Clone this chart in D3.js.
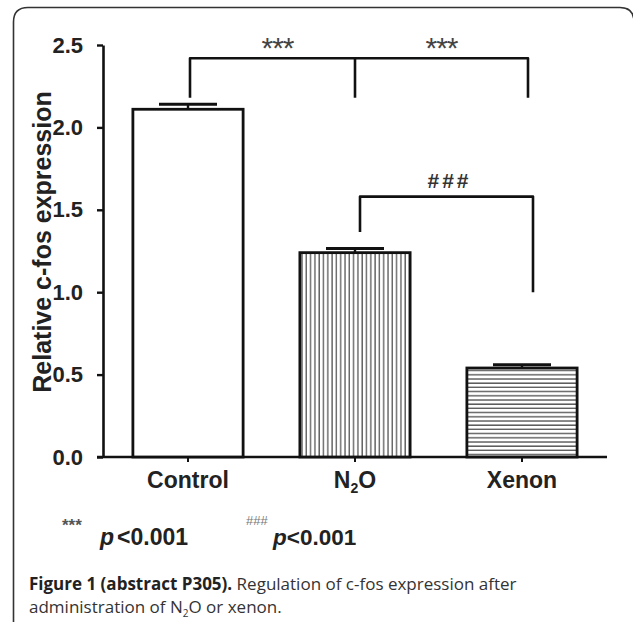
<!DOCTYPE html>
<html><head><meta charset="utf-8">
<script src="https://cdn.jsdelivr.net/npm/d3@7"></script>
<style>
html,body{margin:0;padding:0;background:#fff;}
svg{display:block;}
</style>
</head><body>
<svg id="chart" width="633" height="622"></svg>
<script>
// ---- data ----
const categories = ["Control", "N2O", "Xenon"];
const meanValues = [2.11, 1.24, 0.54];
const errValues = [0.03, 0.025, 0.02];
const yTicks = [0.0, 0.5, 1.0, 1.5, 2.0, 2.5];
const yTickLabels = ["0.0", "0.5", "1.0", "1.5", "2.0", "2.5"];
const fills = ["none", "vstripe", "hstripe"];
// significance brackets
const bracket1Legs = [["Control", 2.18], ["N2O", 2.18], ["Xenon", 2.18]];
const bracket1Level = 2.42;
const bracket1Labels = ["***", "***"];
const bracket2Legs = [["N2O", 1.365], ["Xenon", 1.0]];
const bracket2Level = 1.58;
const bracket2Label = "###";

const svg = d3.select("#chart");
const defs = svg.append("defs");

// frame
svg.append("path")
  .attr("d", "M13.5,640 L13.5,22 Q13.5,7.5 28,7.5 L620,7.5 Q634,7.5 634,22 L634,640")
  .attr("fill", "none").attr("stroke", "#333").attr("stroke-width", 1.6);

// patterns
const pv = defs.append("pattern").attr("id", "vstripe").attr("patternUnits", "userSpaceOnUse")
  .attr("width", 4.3).attr("height", 10);
pv.append("rect").attr("width", 4.3).attr("height", 10).attr("fill", "#fff");
pv.append("line").attr("x1", 1).attr("x2", 1).attr("y1", 0).attr("y2", 10)
  .attr("stroke", "#555").attr("stroke-width", 1.3);
const ph = defs.append("pattern").attr("id", "hstripe").attr("patternUnits", "userSpaceOnUse")
  .attr("width", 10).attr("height", 4.2);
ph.append("rect").attr("width", 10).attr("height", 4.2).attr("fill", "#fff");
ph.append("line").attr("y1", 1).attr("y2", 1).attr("x1", 0).attr("x2", 10)
  .attr("stroke", "#555").attr("stroke-width", 1.4);

// scales
const y = d3.scaleLinear().domain([0, 2.5]).range([457, 45]);
const x = d3.scaleBand().domain(categories).range([104.5, 605.5])
  .paddingInner(0.34).paddingOuter(0.17);
const cx = c => x(c) + x.bandwidth() / 2;

const fontBold = "'Liberation Sans', Arial, sans-serif";

// y axis
const yAxis = d3.axisLeft(y).tickValues(yTicks)
  .tickFormat((d, i) => yTickLabels[i]).tickSizeInner(6).tickSizeOuter(0).tickPadding(14);
const gy = svg.append("g").attr("transform", "translate(103,0)").call(yAxis);
gy.select(".domain").attr("stroke", "#111").attr("stroke-width", 2.6);
gy.selectAll(".tick line").attr("stroke", "#111").attr("stroke-width", 2.4);
gy.selectAll(".tick text").attr("font-family", fontBold).attr("font-weight", "bold")
  .attr("font-size", 22).attr("fill", "#222");

// x axis line
svg.append("line").attr("x1", 97).attr("x2", 607).attr("y1", y(0)).attr("y2", y(0))
  .attr("stroke", "#111").attr("stroke-width", 2.6);
svg.selectAll(".xtick").data(categories).enter().append("line")
  .attr("x1", d => cx(d)).attr("x2", d => cx(d))
  .attr("y1", y(0)).attr("y2", y(0) + 5).attr("stroke", "#111").attr("stroke-width", 2);

// bars
svg.selectAll(".bar").data(categories).enter().append("rect")
  .attr("x", d => x(d)).attr("width", x.bandwidth())
  .attr("y", (d, i) => y(meanValues[i]))
  .attr("height", (d, i) => y(0) - y(meanValues[i]))
  .attr("fill", (d, i) => fills[i] === "none" ? "#fff" : `url(#${fills[i]})`)
  .attr("stroke", "#111").attr("stroke-width", 2.8);

// error bars
categories.forEach((c, i) => {
  const top = y(meanValues[i] + errValues[i]);
  svg.append("line").attr("x1", cx(c)).attr("x2", cx(c))
    .attr("y1", y(meanValues[i])).attr("y2", top).attr("stroke", "#111").attr("stroke-width", 2.4);
  svg.append("line").attr("x1", cx(c) - 29).attr("x2", cx(c) + 29)
    .attr("y1", top).attr("y2", top).attr("stroke", "#111").attr("stroke-width", 3);
});

// brackets
const legX = [cx("Control") + 2, cx("N2O"), cx("Xenon") + 6];
const b1 = svg.append("g").attr("fill", "none").attr("stroke", "#111").attr("stroke-width", 2.6);
b1.append("path").attr("d",
  `M${legX[0]},${y(bracket1Legs[0][1])} L${legX[0]},${y(bracket1Level)} L${legX[2]},${y(bracket1Level)} L${legX[2]},${y(bracket1Legs[2][1])}`)
  .attr("stroke-linejoin", "round");
b1.append("line").attr("x1", legX[1]).attr("x2", legX[1])
  .attr("y1", y(bracket1Level)).attr("y2", y(bracket1Legs[1][1]));
const b1mid = [(legX[0] + legX[1]) / 2 + 5, (legX[1] + legX[2]) / 2];
bracket1Labels.forEach((t, i) => {
  svg.append("text").attr("x", b1mid[i]).attr("y", 58).attr("text-anchor", "middle")
    .attr("font-family", fontBold).attr("font-size", 30).attr("fill", "#444")
    .attr("letter-spacing", -1).text(t);
});

const l2a = cx("N2O") + 5, l2b = cx("Xenon") + 11;
svg.append("path").attr("d",
  `M${l2a},${y(bracket2Legs[0][1])} L${l2a},${y(bracket2Level)} L${l2b},${y(bracket2Level)} L${l2b},${y(bracket2Legs[1][1])}`)
  .attr("fill", "none").attr("stroke", "#111").attr("stroke-width", 2.6).attr("stroke-linejoin", "round");
svg.append("text").attr("x", (l2a + l2b) / 2 + 3).attr("y", 188).attr("text-anchor", "middle")
  .attr("font-family", fontBold).attr("font-weight", "bold").attr("font-size", 21)
  .attr("letter-spacing", 3).attr("fill", "#333").text(bracket2Label);

// category labels
categories.forEach(c => {
  const t = svg.append("text").attr("x", cx(c)).attr("y", 488).attr("text-anchor", "middle")
    .attr("font-family", fontBold).attr("font-weight", "bold").attr("font-size", 23).attr("fill", "#222");
  if (c === "N2O") {
    t.append("tspan").text("N");
    t.append("tspan").attr("font-size", 14).attr("dy", 5).text("2");
    t.append("tspan").attr("dy", -5).text("O");
  } else t.text(c);
});

// y label
svg.append("text").attr("transform", "translate(51,242) rotate(-90)")
  .attr("text-anchor", "middle").attr("font-family", fontBold).attr("font-weight", "bold")
  .attr("font-size", 25).attr("fill", "#222").text("Relative c-fos expression");

// p-value notes
svg.append("text").attr("x", 62).attr("y", 531).attr("font-family", fontBold)
  .attr("font-weight", "bold").attr("font-size", 17).attr("fill", "#555").text("***");
const n1 = svg.append("text").attr("x", 100).attr("y", 545).attr("font-family", fontBold)
  .attr("font-weight", "bold").attr("font-size", 23).attr("fill", "#222");
n1.append("tspan").attr("font-style", "italic").text("p");
n1.append("tspan").attr("dx", 3).text("<0.001");
svg.append("text").attr("x", 246).attr("y", 525).attr("font-family", fontBold)
  .attr("font-size", 13).attr("fill", "#777").text("###");
const n2 = svg.append("text").attr("x", 273).attr("y", 545).attr("font-family", fontBold)
  .attr("font-weight", "bold").attr("font-size", 22.5).attr("fill", "#222");
n2.append("tspan").attr("font-style", "italic").text("p");
n2.append("tspan").text("<0.001");

// caption
const capFont = "'Open Sans', 'Noto Sans', sans-serif";
const c1 = svg.append("text").attr("x", 29).attr("y", 590).attr("font-family", capFont)
  .attr("font-size", 17).attr("fill", "#333");
c1.append("tspan").attr("font-weight", "bold").attr("fill", "#222").text("Figure 1 (abstract P305).");
c1.append("tspan").text(" Regulation of c-fos expression after");
const c2 = svg.append("text").attr("x", 29).attr("y", 613).attr("font-family", capFont)
  .attr("font-size", 17).attr("fill", "#333");
c2.append("tspan").text("administration of N");
c2.append("tspan").attr("font-size", 10).attr("dy", 4).text("2");
c2.append("tspan").attr("dy", -4).text("O or xenon.");
</script>
</body></html>
